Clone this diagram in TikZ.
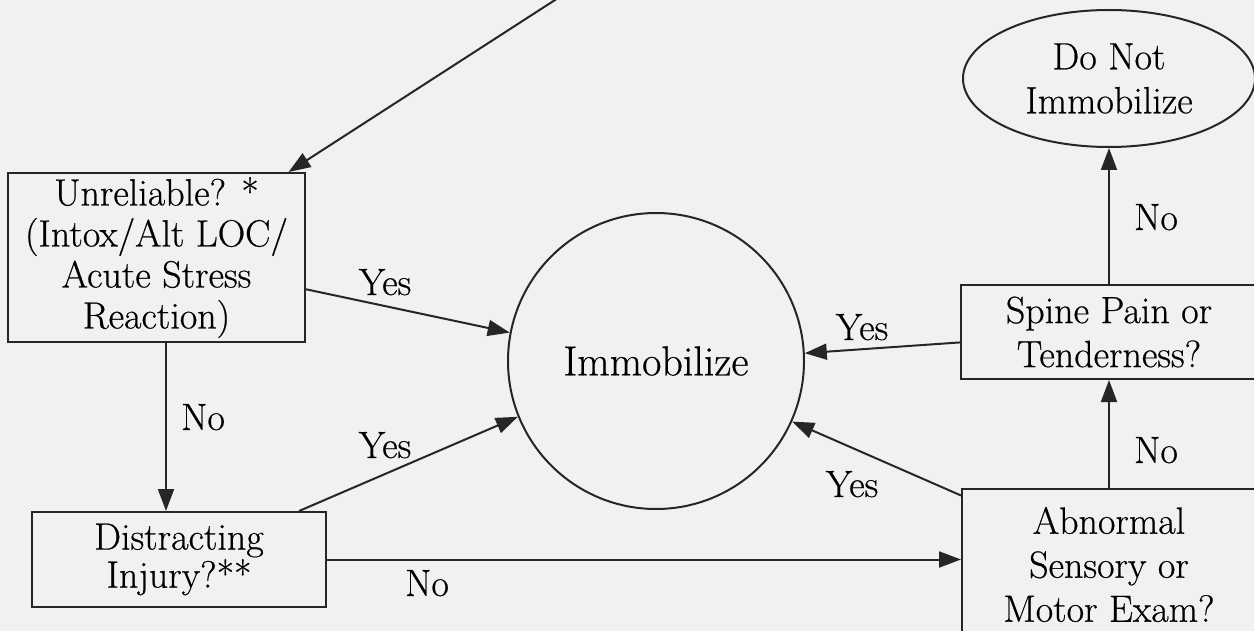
\documentclass[tikz,border=0pt]{standalone}
\usepackage{fontspec}
\setmainfont{Latin Modern Roman}[FakeBold=0.5]
\usetikzlibrary{arrows.meta,shapes.geometric}
\begin{document}
\begin{tikzpicture}[x=0.5pt,y=-0.5pt,
  mybox/.style={draw=black!85, line width=1pt, align=center, inner sep=0pt, font=\fontsize{19}{22}\selectfont},
  myarrow/.style={draw=black!85, line width=1pt, -{Triangle[length=11pt,width=8pt]}},
  mylabel/.style={anchor=base, inner sep=0pt, font=\fontsize{19}{22}\selectfont}]
\definecolor{mycolor}{gray}{0.945}
\fill[mycolor] (0,0) rectangle (1254,631);
\useasboundingbox (0,0) rectangle (1254,631);
\node[mybox, minimum width=148.5pt, minimum height=84.5pt, font=\fontsize{19}{20.5}\selectfont] (unrel) at (156.5,257.5) {Unreliable? *\\(Intox/Alt LOC/\\Acute Stress\\Reaction)};
\node[mybox, minimum width=147pt, minimum height=47.5pt, font=\fontsize{19}{19}\selectfont] (distr) at (179,559.5) {Distracting\\Injury?**};
\node[mybox, circle, minimum size=148pt, font=\fontsize{21}{24}\selectfont] (immob) at (656,361) {Immobilize};
\node[mybox, minimum width=148pt, minimum height=47pt] (spine) at (1109,332) {Spine Pain or\\Tenderness?};
\node[mybox, minimum width=147pt, minimum height=75.5pt] (abnorm) at (1109,564.5) {Abnormal\\Sensory or\\Motor Exam?};
\node[mybox, ellipse, minimum width=146pt, minimum height=68.5pt] (donot) at (1109,78.5) {Do Not\\Immobilize};
\coordinate (src) at (570.5,-10);
\draw[myarrow] (src) -- (unrel);
\draw[myarrow] (unrel.-12) -- (immob.169);
\draw[myarrow] ([xshift=4.75pt]unrel.south) -- ([xshift=4.75pt]unrel.south |- distr.north);
\draw[myarrow] (distr.22) -- (immob.202);
\draw[myarrow] (distr.east) -- (distr.east -| abnorm.west);
\draw[myarrow] (abnorm.155) -- (immob.-24);
\draw[myarrow] (abnorm) -- (spine);
\draw[myarrow] (spine.184) -- (immob.3);
\draw[myarrow] (spine) -- (donot);
\node[mylabel] (yes1) at (385,295) {Yes};
\node[mylabel] (no1) at (203,430) {No};
\node[mylabel] (yes2) at (385,458) {Yes};
\node[mylabel] (no2) at (427,596) {No};
\node[mylabel] (yes3) at (852,497) {Yes};
\node[mylabel] (no3) at (1156,463) {No};
\node[mylabel] (yes4) at (862,340) {Yes};
\node[mylabel] (no4) at (1156,230) {No};
\end{tikzpicture}
\end{document}
